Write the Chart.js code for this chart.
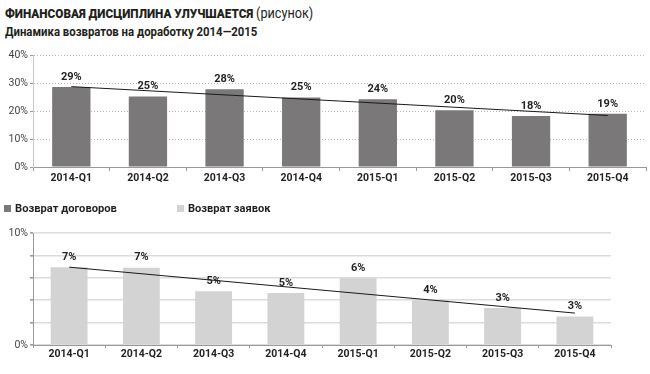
<!DOCTYPE html>
<html>
<head>
<meta charset="utf-8">
<script src="https://cdn.jsdelivr.net/npm/chart.js@4"></script>
<style>
  body { margin: 0; width: 650px; height: 374px; background: #fff; position: relative; overflow: hidden;
         font-family: Roboto, "Liberation Sans", sans-serif; color: #231f20; }
  .t { position: absolute; white-space: nowrap; transform-origin: 0 50%; }
  .title { left: 5px; top: 5px; font-size: 13px; font-weight: 900; }
  .title span { font-weight: 400; font-size: 14px; }
  .sub { left: 5px; top: 24px; font-size: 12.5px; font-weight: 700; }
  .box { position: absolute; }
  .sq { position: absolute; width: 7px; height: 7px; }
  .leg { font-size: 11.5px; font-weight: 700; }
</style>
</head>
<body>
<div class="t title" data-w="308">ФИНАНСОВАЯ ДИСЦИПЛИНА УЛУЧШАЕТСЯ <span>(рисунок)</span></div>
<div class="t sub" data-w="252">Динамика возвратов на доработку 2014—2015</div>

<div class="box" style="left:0;top:0;width:650px;height:200px"><canvas id="top"></canvas></div>
<div class="box" style="left:0;top:200px;width:650px;height:174px"><canvas id="bottom"></canvas></div>

<div class="sq" style="left:4px;top:205px;background:#7a7879"></div>
<div class="t leg" style="left:15px;top:201px" data-w="102">Возврат договоров</div>
<div class="sq" style="left:177px;top:205px;background:#d3d3d3"></div>
<div class="t leg" style="left:188px;top:201px" data-w="82">Возврат заявок</div>

<script>
const quarters = ["2014-Q1", "2014-Q2", "2014-Q3", "2014-Q4", "2015-Q1", "2015-Q2", "2015-Q3", "2015-Q4"];
const contractReturns = [28.6, 25.2, 27.8, 24.8, 24.2, 20.3, 18.2, 19.0];
const contractLabels = ["29%", "25%", "28%", "25%", "24%", "20%", "18%", "19%"];
const contractTrend = [28.7, null, null, null, null, null, null, 18.4];
const requestReturns = [6.95, 6.9, 4.8, 4.65, 5.95, 4.0, 3.3, 2.55];
const requestLabels = ["7%", "7%", "5%", "5%", "6%", "4%", "3%", "3%"];
const requestTrend = [6.95, null, null, null, null, null, null, 2.85];
const topTicks = ["0%", "10%", "20%", "30%", "40%"];
const bottomTicks = { 0: "0%", 10: "10%" };

// fit html text to the width seen in the picture
document.querySelectorAll("[data-w]").forEach((el) => {
  el.style.transform = "scaleX(" + el.dataset.w / el.offsetWidth + ")";
});

const valueLabels = {
  id: "valueLabels",
  afterDatasetsDraw(chart, args, opts) {
    const ctx = chart.ctx;
    const meta = chart.getDatasetMeta(0);
    ctx.save();
    ctx.font = "bold 11px Roboto, 'Liberation Sans', sans-serif";
    ctx.fillStyle = "#231f20";
    ctx.textAlign = "center";
    ctx.textBaseline = "middle";
    meta.data.forEach((bar, i) => {
      ctx.fillText(opts.labels[i], bar.x, bar.y - 10);
    });
    ctx.restore();
  },
};

const tickFont = { family: "Roboto, 'Liberation Sans', sans-serif", size: 10.5 };

new Chart(document.getElementById("top"), {
  type: "bar",
  data: {
    labels: quarters,
    datasets: [
      {
        data: contractReturns,
        backgroundColor: "#7a7879",
        barPercentage: 0.5,
        categoryPercentage: 1,
        order: 1,
      },
      {
        type: "line",
        data: contractTrend,
        spanGaps: true,
        borderColor: "#1a1a1a",
        borderWidth: 1,
        pointRadius: 0,
        order: 0,
      },
    ],
  },
  options: {
    responsive: true,
    maintainAspectRatio: false,
    animation: false,
    layout: { padding: { top: 55, right: 4, left: 0, bottom: 0 } },
    plugins: { legend: { display: false }, tooltip: { enabled: false }, valueLabels: { labels: contractLabels } },
    scales: {
      x: {
        afterFit: (s) => { s.height = 33; },
        grid: { drawOnChartArea: false, tickLength: 4, color: "#999" },
        border: { color: "#999" },
        ticks: { font: { ...tickFont, weight: "bold" }, color: "#231f20", padding: 1, maxRotation: 0, autoSkip: false },
      },
      y: {
        min: 0,
        max: 40,
        afterFit: (s) => { s.width = 33; },
        grid: { color: "#b8b8b8", tickLength: 3, tickColor: "#999" },
        border: { color: "#c8c8c8", dash: [1, 2] },
        ticks: { stepSize: 10, padding: 2, color: "#444", font: tickFont, callback: (v) => topTicks[v / 10] },
      },
    },
  },
  plugins: [valueLabels],
});

new Chart(document.getElementById("bottom"), {
  type: "bar",
  data: {
    labels: quarters,
    datasets: [
      {
        data: requestReturns,
        backgroundColor: "#d3d3d3",
        barPercentage: 0.51,
        categoryPercentage: 1,
        order: 1,
      },
      {
        type: "line",
        data: requestTrend,
        spanGaps: true,
        borderColor: "#1a1a1a",
        borderWidth: 1,
        pointRadius: 0,
        order: 0,
      },
    ],
  },
  options: {
    responsive: true,
    maintainAspectRatio: false,
    animation: false,
    layout: { padding: { top: 33, right: 39, left: 0, bottom: 0 } },
    plugins: { legend: { display: false }, tooltip: { enabled: false }, valueLabels: { labels: requestLabels } },
    scales: {
      x: {
        afterFit: (s) => { s.height = 29; },
        grid: { drawOnChartArea: false, tickLength: 3, color: "#999" },
        border: { color: "#999" },
        ticks: { font: { ...tickFont, weight: "bold" }, color: "#231f20", padding: 0, maxRotation: 0, autoSkip: false },
      },
      y: {
        min: 0,
        max: 10,
        afterFit: (s) => { s.width = 33; },
        grid: { color: "#dcdcdc", lineWidth: 1.6, tickLength: 3, tickColor: "#999" },
        border: { color: "#999" },
        ticks: { stepSize: 2, padding: 2, color: "#444", font: tickFont, callback: (v) => bottomTicks[v] || "" },
      },
    },
  },
  plugins: [valueLabels],
});
</script>
</body>
</html>
